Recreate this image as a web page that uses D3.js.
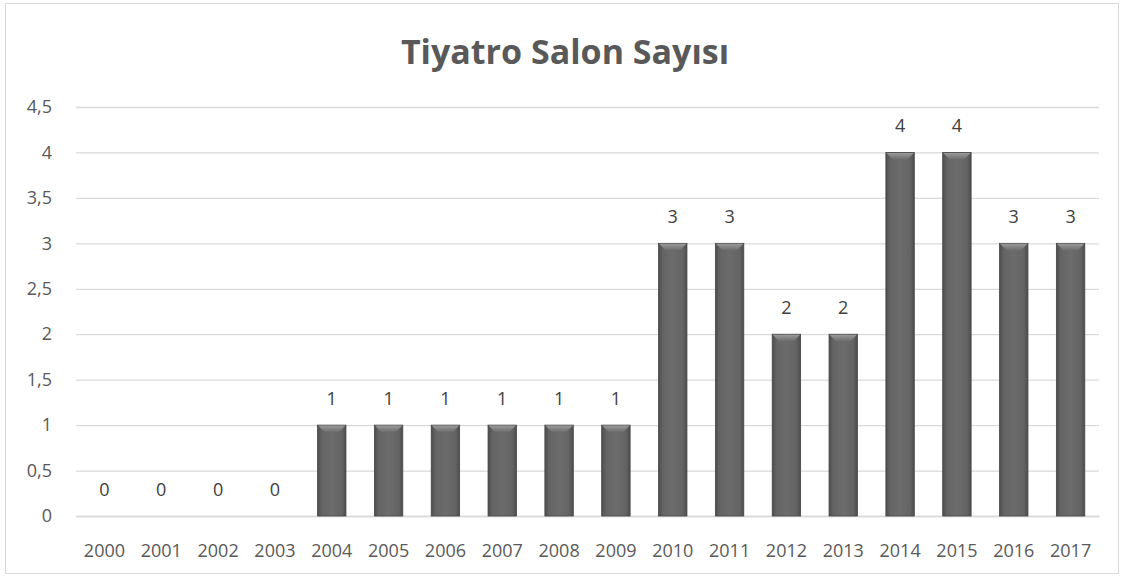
<!DOCTYPE html>
<html>
<head>
<meta charset="utf-8">
<script src="https://cdn.jsdelivr.net/npm/d3@7"></script>
<style>
  body { margin: 0; background: #fff; }
  text { font-family: "Open Sans", "Liberation Sans", sans-serif; fill: #595959; }
</style>
</head>
<body>
<svg width="1125" height="578"></svg>
<script>
var years = ["2000","2001","2002","2003","2004","2005","2006","2007","2008","2009",
             "2010","2011","2012","2013","2014","2015","2016","2017"];
var salonCounts = [0,0,0,0,1,1,1,1,1,1,3,3,2,2,4,4,3,3];
var yTicks = [0,0.5,1,1.5,2,2.5,3,3.5,4,4.5];

var width = 1125;
var height = 578;
var plotLeft = 76, plotRight = 1099, plotTop = 107, plotBottom = 516;

var svg = d3.select("svg");

svg.append("rect")
    .attr("x", 5.5).attr("y", 3.5)
    .attr("width", 1113).attr("height", 570)
    .attr("fill", "#fff")
    .attr("stroke", "#d9d9d9");

var defs = svg.append("defs");
var grad = defs.append("linearGradient")
    .attr("id", "barGrad")
    .attr("x1", "0%").attr("x2", "100%").attr("y1", "0%").attr("y2", "0%");
grad.append("stop").attr("offset", "0%").attr("stop-color", "#4d4d4d");
grad.append("stop").attr("offset", "15%").attr("stop-color", "#646464");
grad.append("stop").attr("offset", "50%").attr("stop-color", "#6c6c6c");
grad.append("stop").attr("offset", "85%").attr("stop-color", "#646464");
grad.append("stop").attr("offset", "100%").attr("stop-color", "#4d4d4d");

var bevel = defs.append("linearGradient")
    .attr("id", "bevelGrad")
    .attr("x1", "0%").attr("x2", "0%").attr("y1", "0%").attr("y2", "100%");
bevel.append("stop").attr("offset", "0%").attr("stop-color", "#9a9a9a");
bevel.append("stop").attr("offset", "100%").attr("stop-color", "#6c6c6c");

var xScale = d3.scaleBand()
    .domain(years)
    .range([plotLeft, plotRight])
    .paddingInner(0.5)
    .paddingOuter(0.25);

var yScale = d3.scaleLinear()
    .domain([0, 4.5])
    .range([plotBottom, plotTop]);

var yAxis = d3.axisLeft(yScale)
    .tickValues(yTicks)
    .tickSize(-(plotRight - plotLeft))
    .tickFormat(function(d){ return String(d).replace(".", ","); });

var gy = svg.append("g")
    .attr("transform", "translate(" + plotLeft + ",0)")
    .call(yAxis);
gy.select(".domain").remove();
gy.selectAll(".tick line").attr("stroke", "#d9d9d9").attr("stroke-width", 1.3);
gy.selectAll(".tick text")
    .attr("x", -24)
    .style("font-size", "18px")
    .style("fill", "#595959");

var xAxis = d3.axisBottom(xScale).tickSize(0);
var gx = svg.append("g")
    .attr("transform", "translate(0," + plotBottom + ")")
    .call(xAxis);
gx.select(".domain").attr("stroke", "#d9d9d9").attr("stroke-width", 1.3);
gx.selectAll(".tick text")
    .attr("y", 28)
    .style("font-size", "18px")
    .style("fill", "#595959");

var bars = svg.append("g").selectAll("g")
    .data(years)
    .enter()
    .append("g");

bars.append("rect")
    .attr("x", function(d){ return xScale(d); })
    .attr("y", function(d, i){ return yScale(salonCounts[i]); })
    .attr("width", xScale.bandwidth())
    .attr("height", function(d, i){ return plotBottom - yScale(salonCounts[i]); })
    .attr("fill", "url(#barGrad)")
    .attr("stroke", "#444")
    .attr("stroke-width", 0.8);

// top bevel
bars.filter(function(d, i){ return salonCounts[i] > 0; })
  .append("path")
    .attr("d", function(d){
      var i = years.indexOf(d);
      var x0 = xScale(d), w = xScale.bandwidth(), y0 = yScale(salonCounts[i]);
      return "M" + (x0 + 0.5) + "," + (y0 + 0.5) + "L" + (x0 + w - 0.5) + "," + (y0 + 0.5) +
             "L" + (x0 + w - 7) + "," + (y0 + 7) + "L" + (x0 + 7) + "," + (y0 + 7) + "Z";
    })
    .attr("fill", "url(#bevelGrad)");

bars.append("text")
    .attr("x", function(d){ return xScale(d) + xScale.bandwidth() / 2; })
    .attr("y", function(d, i){ return yScale(salonCounts[i]) - 20; })
    .style("text-anchor", "middle")
    .style("font-size", "18px")
    .style("fill", "#404040")
    .text(function(d, i){ return salonCounts[i]; });

svg.append("text")
    .attr("x", 565)
    .attr("y", 64)
    .style("text-anchor", "middle")
    .style("font-size", "34px")
    .style("font-weight", "bold")
    .style("fill", "#595959")
    .text("Tiyatro Salon Sayısı");
</script>
</body>
</html>
